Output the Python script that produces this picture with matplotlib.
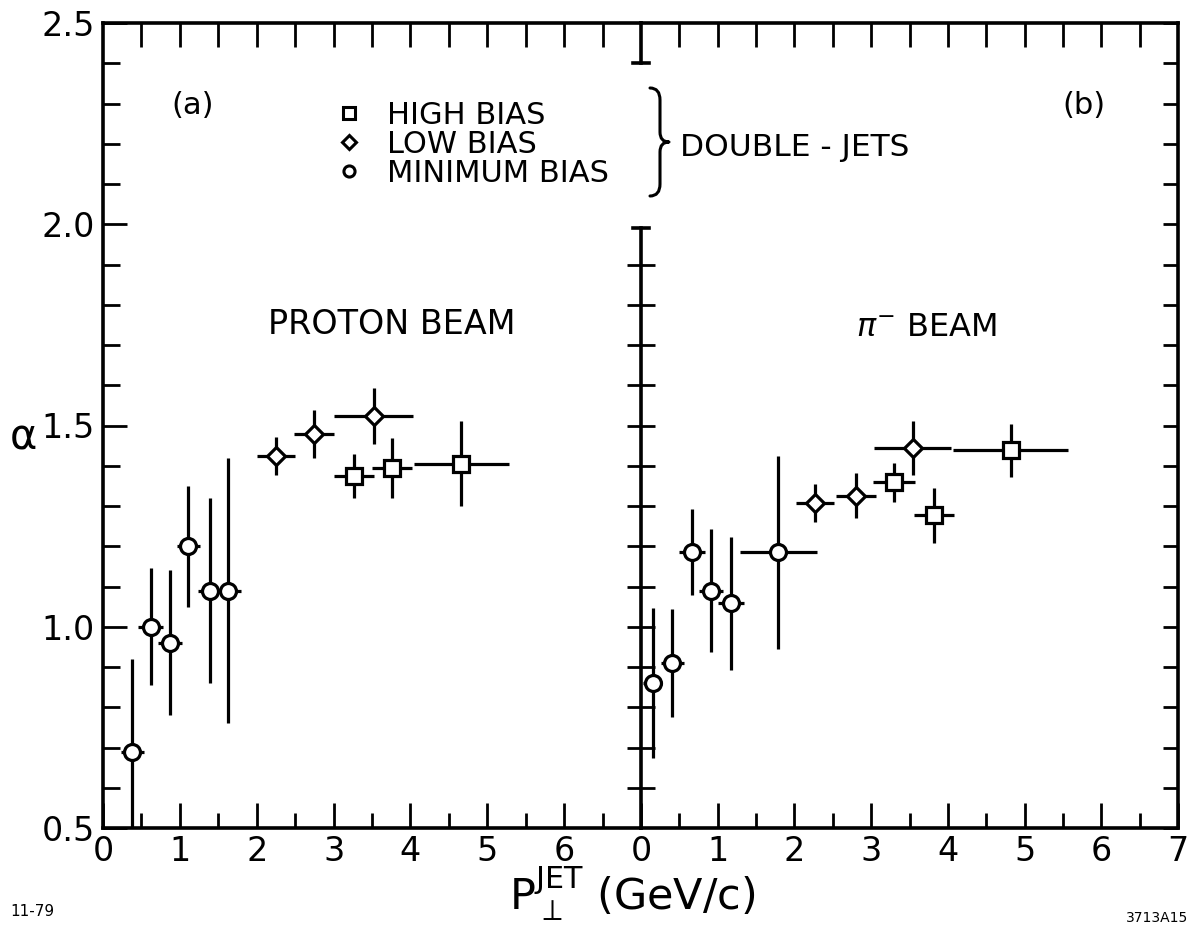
import numpy as np
import matplotlib.pyplot as plt
from matplotlib import font_manager
from matplotlib.lines import Line2D
from matplotlib.path import Path
from matplotlib.patches import PathPatch

plt.rcParams['font.family'] = ['DejaVu Sans']
plt.rcParams['mathtext.fontset'] = 'dejavusans'

# (a) proton beam
p_min_x = [0.38, 0.62, 0.87, 1.11, 1.39, 1.63]
p_min_y = [0.69, 1.00, 0.96, 1.20, 1.09, 1.09]
p_min_ye = [0.23, 0.145, 0.18, 0.15, 0.23, 0.33]
p_min_xe = [0.15, 0.16, 0.16, 0.15, 0.16, 0.17]

p_low_x = [2.25, 2.74, 3.52]
p_low_y = [1.424, 1.479, 1.523]
p_low_ye = [0.047, 0.060, 0.070]
p_low_xe = [0.25, 0.26, 0.51]

p_high_x = [3.26, 3.76, 4.66]
p_high_y = [1.375, 1.395, 1.405]
p_high_ye = [0.055, 0.075, 0.105]
p_high_xe = [0.26, 0.26, 0.62]

# (b) pi- beam
pi_min_x = [0.15, 0.41, 0.67, 0.91, 1.17, 1.79]
pi_min_y = [0.86, 0.91, 1.185, 1.09, 1.058, 1.185]
pi_min_ye = [0.187, 0.134, 0.107, 0.153, 0.166, 0.24]
pi_min_xe = [0.13, 0.15, 0.17, 0.16, 0.17, 0.50]

pi_low_x = [2.27, 2.80, 3.54]
pi_low_y = [1.307, 1.326, 1.444]
pi_low_ye = [0.047, 0.055, 0.068]
pi_low_xe = [0.25, 0.26, 0.50]

pi_high_x = [3.30, 3.82, 4.82]
pi_high_y = [1.359, 1.277, 1.438]
pi_high_ye = [0.048, 0.068, 0.066]
pi_high_xe = [0.27, 0.26, 0.75]

legend_labels = ['HIGH BIAS', 'LOW BIAS', 'MINIMUM BIAS']

# narrow digits if the font is there
have = {f.name for f in font_manager.fontManager.ttflist}
if 'Liberation Sans Narrow' in have:
    tick_font, tick_size = 'Liberation Sans Narrow', 29
else:
    tick_font, tick_size = 'DejaVu Sans', 24

W, H = 1198, 941
fig = plt.figure(figsize=(W / 100, H / 100), dpi=100)
x0, x1, x2 = 103, 641, 1178
ytop, ybot = 23, 828
ax_l = fig.add_axes([x0 / W, 1 - ybot / H, (x1 - x0) / W, (ybot - ytop) / H])
ax_r = fig.add_axes([x1 / W, 1 - ybot / H, (x2 - x1) / W, (ybot - ytop) / H])

LW = 2.3
styles = {'o': 11.5, 'D': 9.5, 's': 11.5}


def draw(ax, x, y, xe, ye, m):
    ax.errorbar(x, y, yerr=ye, xerr=xe, fmt=m, ms=styles[m], mfc='white', mec='black',
                mew=LW, ecolor='black', elinewidth=LW, capsize=0, zorder=3)


draw(ax_l, p_min_x, p_min_y, p_min_xe, p_min_ye, 'o')
draw(ax_l, p_low_x, p_low_y, p_low_xe, p_low_ye, 'D')
draw(ax_l, p_high_x, p_high_y, p_high_xe, p_high_ye, 's')
draw(ax_r, pi_min_x, pi_min_y, pi_min_xe, pi_min_ye, 'o')
draw(ax_r, pi_low_x, pi_low_y, pi_low_xe, pi_low_ye, 'D')
draw(ax_r, pi_high_x, pi_high_y, pi_high_xe, pi_high_ye, 's')

for ax in (ax_l, ax_r):
    ax.set_xlim(0, 7)
    ax.set_ylim(0.5, 2.5)
    for s in ax.spines.values():
        s.set_linewidth(2.6)
    ax.set_xticks(np.arange(0.5, 7, 0.5), minor=True)
    ax.tick_params(axis='x', which='major', direction='in', length=18, width=2, top=False,
                   labelsize=tick_size, pad=5)
    ax.tick_params(axis='x', which='minor', direction='in', length=11, width=2, top=False)
    top = ax.secondary_xaxis('top')
    top.set_xticks(np.arange(0.5, 7, 0.5))
    top.tick_params(direction='in', length=17, width=2, labeltop=False)
    top.spines['top'].set_visible(False)

ax_l.spines['right'].set_visible(False)
ax_r.spines['left'].set_visible(False)

ax_l.set_xticks(np.arange(0, 7, 1))
ax_l.set_xticklabels([str(i) for i in range(7)], family=tick_font)
ax_r.set_xticks(np.arange(0, 8, 1))
ax_r.set_xticklabels([str(i) for i in range(8)], family=tick_font)

ax_l.set_yticks([0.5, 1.0, 1.5, 2.0, 2.5])
ax_l.set_yticklabels(['0.5', '1.0', '1.5', '2.0', '2.5'], family=tick_font)
ax_l.set_yticks(np.arange(0.6, 2.5, 0.1), minor=True)
ax_l.tick_params(axis='y', which='major', direction='in', length=17, width=2, right=False,
                 labelsize=tick_size, pad=6)
ax_l.tick_params(axis='y', which='minor', direction='in', length=12, width=2, right=False)

ax_r.set_yticks([0.5, 1.0, 1.5, 2.0, 2.5])
ax_r.set_yticks(np.arange(0.6, 2.5, 0.1), minor=True)
ax_r.tick_params(axis='y', which='both', direction='in', length=11, width=2, left=False,
                 right=True, labelleft=False)

# divider between panels, broken where the legend sits
mid = ax_r.secondary_yaxis('left')
mid.set_yticks(np.arange(0.6, 1.95, 0.1))
mid.tick_params(direction='inout', length=20, width=2, labelleft=False)
mid.spines['left'].set_visible(False)
ax_r.plot([0, 0], [0.5, 1.99], color='black', lw=2.6, clip_on=False, zorder=4)
ax_r.plot([-0.1, 0.1], [1.99, 1.99], color='black', lw=2.6, clip_on=False, zorder=4)
ax_r.plot([0, 0], [2.5, 2.4], color='black', lw=2.6, clip_on=False, zorder=4)
ax_r.plot([-0.1, 0.1], [2.4, 2.4], color='black', lw=2.6, clip_on=False, zorder=4)

# legend
handles = [Line2D([], [], ls='none', marker=m, ms=s, mfc='white', mec='black', mew=2.2)
           for m, s in (('s', 8), ('D', 7), ('o', 8))]
fig.legend(handles, legend_labels, loc='upper left', bbox_to_anchor=(334 / W, 1 - 101 / H),
           frameon=False, borderpad=0, borderaxespad=0, handlelength=1.0,
           handletextpad=0.75, labelspacing=0.0, fontsize=22)


def px(x, y):
    return (x / W, 1 - y / H)


# right brace, thin stroke
bl, bt, bb, bx, btip = 650, 88, 196, 660, 669
bm = (bt + bb) / 2
verts = [px(bl, bt), px(bx, bt), px(bx, bt + 12), px(bx, bm - 10), px(bx, bm), px(btip, bm),
         px(bx, bm), px(bx, bm + 10), px(bx, bb - 12), px(bx, bb), px(bl, bb)]
codes = [Path.MOVETO, Path.CURVE3, Path.CURVE3, Path.LINETO, Path.CURVE3, Path.CURVE3,
         Path.CURVE3, Path.CURVE3, Path.LINETO, Path.CURVE3, Path.CURVE3]
fig.add_artist(PathPatch(Path(verts, codes), transform=fig.transFigure, fill=False,
                         lw=2.2, capstyle='round', joinstyle='round'))

fig.text(680 / W, 1 - 148 / H, 'DOUBLE - JETS', fontsize=22.5, va='center')
fig.text(171 / W, 1 - 105 / H, '(a)', fontsize=22, va='center')
fig.text(1062 / W, 1 - 106 / H, '(b)', fontsize=22, va='center')
fig.text(268 / W, 1 - 325 / H, 'PROTON BEAM', fontsize=24, va='center')
fig.text(856 / W, 1 - 328 / H, r'$\pi^{-}$ BEAM', fontsize=23, va='center')
fig.text(23 / W, 1 - 437 / H, 'α', fontsize=30, ha='center', va='center')
fig.text(632 / W, 1 - 895 / H, r'$\mathregular{P_{\perp}^{JET}}$ (GeV/c)', fontsize=31,
         ha='center', va='center')
fig.text(10 / W, 1 - 912 / H, '11-79', fontsize=11, va='center')
fig.text(1188 / W, 1 - 918 / H, '3713A15', fontsize=10, ha='right', va='center')

fig.savefig('out.png', dpi=100)
